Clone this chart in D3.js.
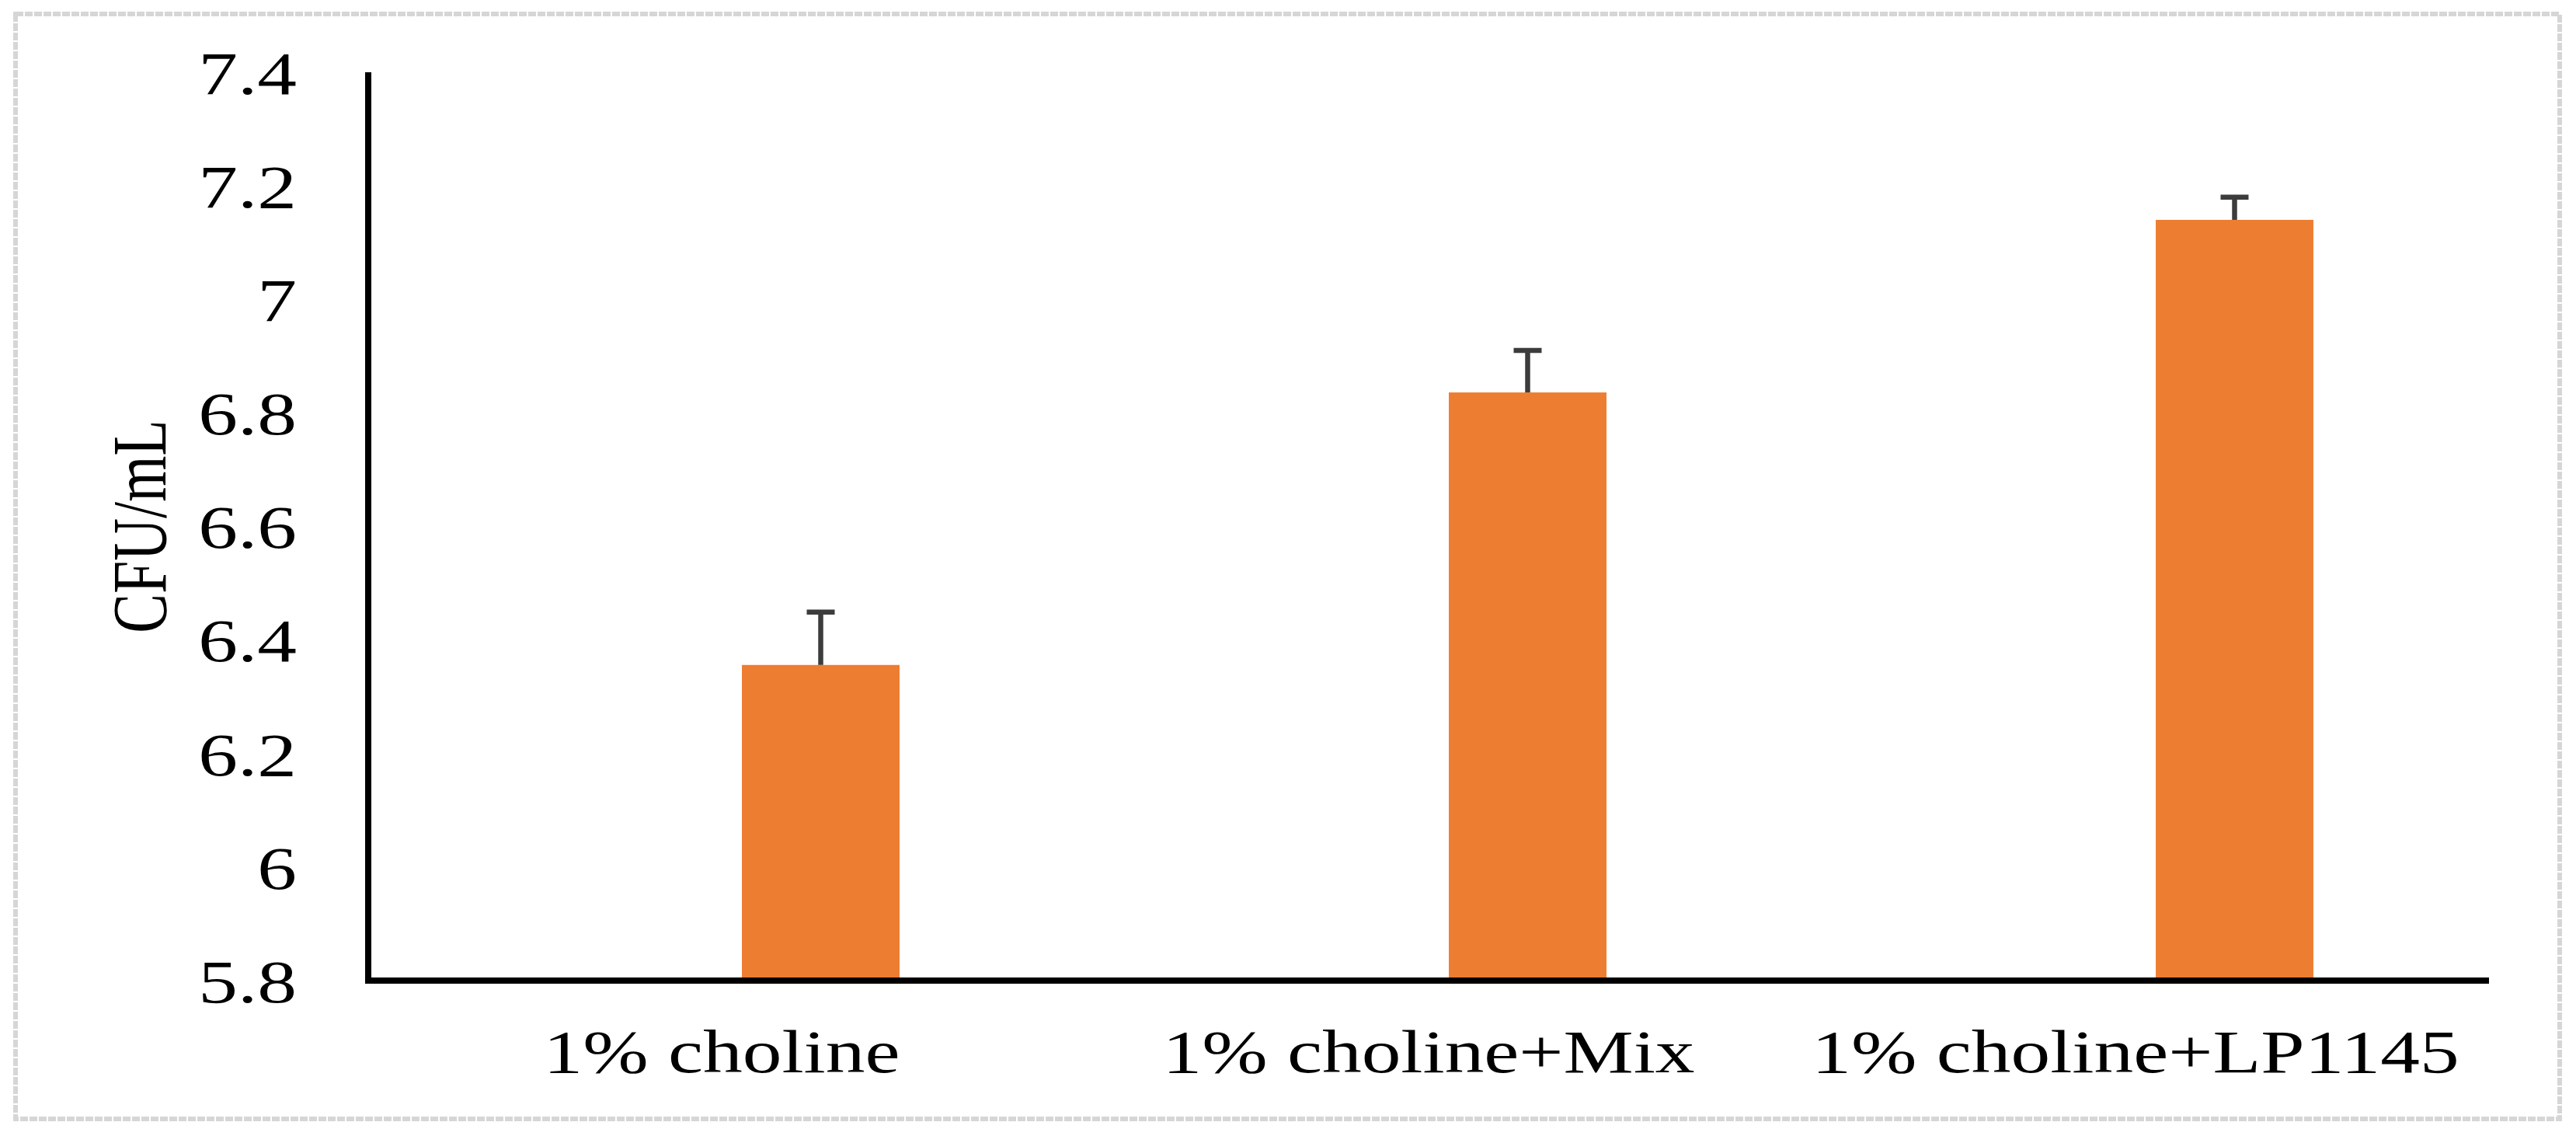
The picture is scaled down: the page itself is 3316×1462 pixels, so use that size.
<!DOCTYPE html>
<html>
<head>
<meta charset="utf-8">
<script src="https://cdn.jsdelivr.net/npm/d3@7/dist/d3.min.js"></script>
<style>
  html, body { margin: 0; padding: 0; background: #ffffff; }
  svg { display: block; }
  text { font-family: "Liberation Serif", "Times New Roman", serif; fill: #000; }
</style>
</head>
<body>
<svg id="chart" width="3316" height="1462"></svg>
<script>
// ---- data ----
const categories = ["1% choline", "1% choline+Mix", "1% choline+LP1145"];
const values = [6.356, 6.836, 7.140];
const errors = [0.093, 0.074, 0.040];
const yTicks = [5.8, 6.0, 6.2, 6.4, 6.6, 6.8, 7.0, 7.2, 7.4];
const yLabel = "CFU/mL";

// ---- layout ----
const W = 3316, H = 1462;
const plot = { left: 474, right: 3204, top: 93, bottom: 1262 };
const sx = 1.3; // horizontal stretch of the glyphs in the reference

const svg = d3.select("#chart");

// outer frame
svg.append("rect")
  .attr("x", 20).attr("y", 18)
  .attr("width", 3295 - 20).attr("height", 1440 - 18)
  .attr("fill", "#fff")
  .attr("stroke", "#d6d6d6")
  .attr("stroke-width", 6)
  .attr("stroke-dasharray", "10,2");

const x0 = d3.scaleBand().domain(categories).range([plot.left, plot.right]).padding(0);
const y = d3.scaleLinear().domain([5.8, 7.4]).range([plot.bottom, plot.top]);

const barOffset = 0.5286, barFrac = 0.223;
const bw = x0.bandwidth() * barFrac;
const barX = c => x0(c) + x0.bandwidth() * barOffset;

// bars
svg.append("g").selectAll("rect").data(categories).join("rect")
  .attr("x", c => barX(c))
  .attr("y", (c, i) => y(values[i]))
  .attr("width", bw)
  .attr("height", (c, i) => y(5.8) - y(values[i]))
  .attr("fill", "#ED7D31");

// error bars (plus side only)
const eg = svg.append("g").attr("stroke", "#3c3c3c").attr("stroke-width", 6.5);
categories.forEach((c, i) => {
  const cx = barX(c) + bw / 2;
  eg.append("line").attr("x1", cx).attr("x2", cx)
    .attr("y1", y(values[i])).attr("y2", y(values[i] + errors[i]));
  eg.append("line").attr("x1", cx - 18).attr("x2", cx + 18)
    .attr("y1", y(values[i] + errors[i])).attr("y2", y(values[i] + errors[i]));
});

// y axis
const yAxis = d3.axisLeft(y).tickValues(yTicks).tickSize(0).tickPadding(0)
  .tickFormat(d3.format("~g"));
const gy = svg.append("g").attr("transform", `translate(${plot.left},0)`).call(yAxis);
gy.select(".domain").remove();
gy.selectAll("text")
  .attr("font-size", 78)
  .attr("font-family", "Liberation Serif, Times New Roman, serif")
  .attr("fill", "#000")
  .attr("x", 0).attr("dy", "0.35em")
  .attr("text-anchor", "end")
  .attr("transform", function() {
    // stretch horizontally around the right edge at 382 absolute
    return `translate(${382 - plot.left},0) scale(${sx},1)`;
  });

// x axis labels
const xAxis = d3.axisBottom(x0).tickSize(0).tickPadding(0);
const gx = svg.append("g").attr("transform", `translate(0,${plot.bottom})`).call(xAxis);
gx.select(".domain").remove();
gx.selectAll(".tick text")
  .attr("font-size", 78)
  .attr("font-family", "Liberation Serif, Times New Roman, serif")
  .attr("fill", "#000")
  .attr("y", 0).attr("dy", 0)
  .attr("text-anchor", "middle")
  .attr("transform", `translate(0,118) scale(${sx},1)`);

// axis lines
svg.append("path")
  .attr("d", d3.line()([[plot.left, y(7.4)], [plot.left, y(5.8)], [plot.right, y(5.8)]]))
  .attr("fill", "none").attr("stroke", "#000").attr("stroke-width", 8)
  .attr("stroke-linejoin", "miter");

// y label
svg.append("text")
  .attr("transform", `translate(213,${(plot.top + plot.bottom) / 2}) scale(${sx},1) rotate(-90)`)
  .attr("text-anchor", "middle")
  .attr("font-size", 76)
  .text(yLabel);
</script>
</body>
</html>
